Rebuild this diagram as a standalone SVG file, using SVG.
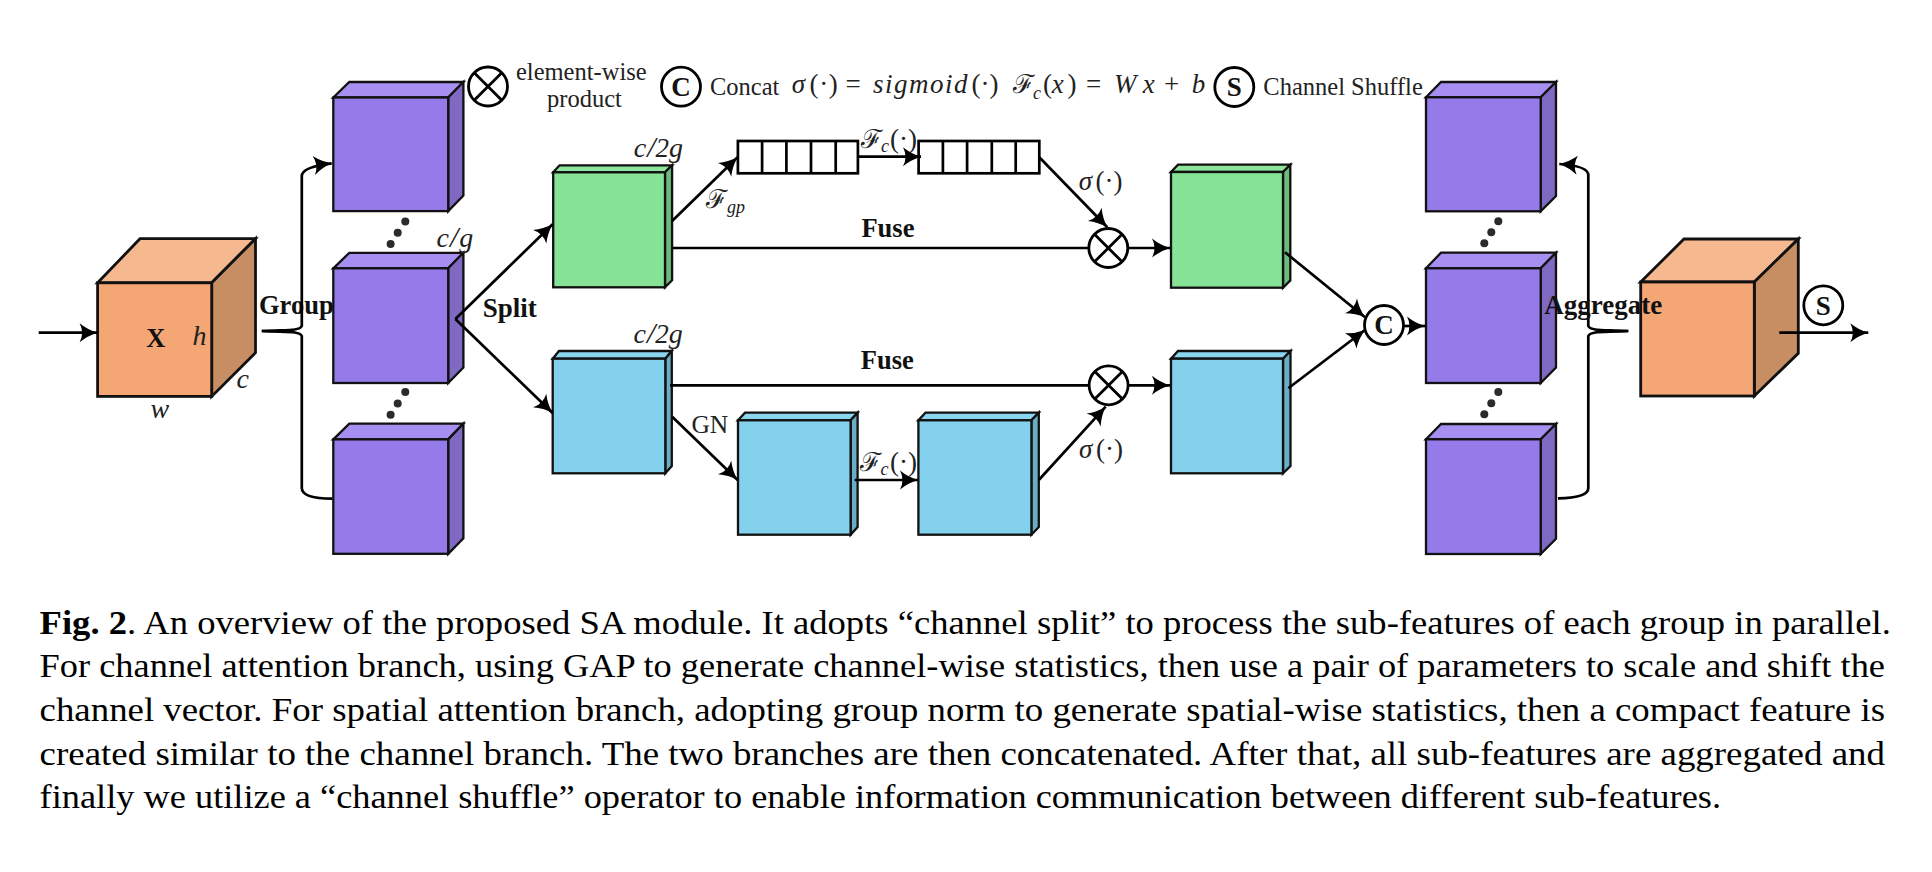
<svg xmlns="http://www.w3.org/2000/svg" width="1932" height="872" viewBox="0 0 1932 872">
<style>
.s{stroke:#111;stroke-width:2.3;stroke-linejoin:miter}
.so{stroke:#111;stroke-width:2.8;stroke-linejoin:miter}
.pf{fill:#957aea}.pt{fill:#a68ff0}.ps{fill:#7f69c3}
.of{fill:#f4a674}.ot{fill:#f6b88f}.os{fill:#c78e63}
.gf{fill:#86e295}.gt{fill:#8ee59c}.gs{fill:#6cba7c}
.bf{fill:#83d1ec}.bt{fill:#8bd5ee}.bs{fill:#6cadc6}
text{font-family:"Liberation Serif",serif;fill:#111}
.b{font-weight:bold;font-size:26.5px}
.m{font-style:italic;font-size:28px;fill:#222}
.n{font-size:27px;fill:#222}
.f{font-style:normal;font-size:26px}
.i{font-style:italic}
.u{font-size:24.5px;fill:#222}
.l{stroke:#000;stroke-width:2.7;fill:none}
.a{stroke:#000;stroke-width:2.7;fill:none;marker-end:url(#ah)}
.r{fill:#fff;stroke:#000;stroke-width:2.8}
.d{fill:#2b2b2b}
.c{font-size:33.8px;fill:#000}
.k{font-size:27px;font-weight:bold}
</style>
<defs>
<marker id="ah" markerUnits="userSpaceOnUse" markerWidth="24" markerHeight="24" refX="19" refY="12" orient="auto">
<path d="M1 2.5 Q9 9 19 12 Q9 15 1 21.5 Q6 12 1 2.5Z" fill="#000"/>
</marker>
<symbol id="x" overflow="visible">
<circle cx="0" cy="0" r="19.5" fill="#fff" stroke="#000" stroke-width="2.8"/>
<path d="M-13.8 -13.8L13.8 13.8M13.8 -13.8L-13.8 13.8" stroke="#000" stroke-width="2.8"/>
</symbol>
</defs>

<g id="cube-input">
<path class="ot so" d="M97.6 282.8L140 238.7H255.5L211.7 282.8Z"/>
<path class="os so" d="M211.7 282.8L255.5 238.7V352.7L211.7 396.4Z"/>
<rect class="of so" x="97.6" y="282.8" width="114.1" height="113.6"/>
<text x="155.7" y="346.5" class="b" text-anchor="middle">X</text>
<text x="192.5" y="344.8" class="m">h</text>
<text x="236.5" y="387.8" class="m">c</text>
<text x="150.5" y="418" class="m">w</text>
</g>

<text x="259" y="314" class="b">Group</text>

<g id="group-1">
<path class="pt s" d="M333.3 97.5L349.3 82H463.4L448.2 97.5Z"/>
<path class="ps s" d="M448.2 97.5L463.4 82V195.6L448.2 211.1Z"/>
<rect class="pf s" x="333.3" y="97.5" width="114.9" height="113.6"/>
</g>
<g id="group-2">
<path class="pt s" d="M333.3 268.3L349.3 252.8H463.4L448.2 268.3Z"/>
<path class="ps s" d="M448.2 268.3L463.4 252.8V367.5L448.2 383Z"/>
<rect class="pf s" x="333.3" y="268.3" width="114.9" height="114.7"/>
<text x="436.5" y="246.6" class="m">c<tspan class="n" dx="1" style="font-size:30px">/</tspan><tspan dx="1">g</tspan></text>
</g>
<g id="group-3">
<path class="pt s" d="M333.3 439.4L349.3 423.6H463.4L448.2 439.4Z"/>
<path class="ps s" d="M448.2 439.4L463.4 423.6V538.2L448.2 553.8Z"/>
<rect class="pf s" x="333.3" y="439.4" width="114.9" height="114.4"/>
</g>
<g id="dots-left">
<circle class="d" cx="405.3" cy="221.5" r="4"/><circle class="d" cx="397.7" cy="232.8" r="4"/><circle class="d" cx="390.6" cy="243.9" r="4"/>
<circle class="d" cx="405.3" cy="391.9" r="4"/><circle class="d" cx="397.7" cy="403.6" r="4"/><circle class="d" cx="390.6" cy="414.7" r="4"/>
</g>
<text x="482.7" y="317.2" class="b" style="font-size:27px">Split</text>

<g id="legend">
<use href="#x" x="488" y="86.5"/>
<text x="516" y="80" class="u">element-wise</text>
<text x="547" y="106.7" class="u">product</text>
<circle class="r" cx="681" cy="86.7" r="19.5"/>
<text x="681" y="96" class="k" text-anchor="middle">C</text>
<text x="710" y="95" class="u">Concat</text>
<text y="93.3" class="n"><tspan x="791.8" class="i">σ</tspan><tspan x="809.6" letter-spacing="0.6">(·)</tspan><tspan x="845.4">=</tspan><tspan x="873" class="i" letter-spacing="1.5">sigmoid</tspan><tspan x="971.5">(·)</tspan></text>
<text y="93.3" class="n"><tspan x="1012.7" class="f">ℱ</tspan><tspan x="1033" y="98.5" class="i" font-size="18">c</tspan><tspan x="1043" y="93.3">(</tspan><tspan x="1051.7" class="i">x</tspan><tspan x="1067.5">)</tspan><tspan x="1086">=</tspan><tspan x="1114" class="i">W</tspan><tspan x="1142.7" class="i">x</tspan><tspan x="1164">+</tspan><tspan x="1191.7" class="i">b</tspan></text>
<circle class="r" cx="1234.3" cy="87" r="19.5"/>
<text x="1234.3" y="96" class="k" text-anchor="middle">S</text>
<text x="1263.3" y="95" class="u">Channel Shuffle</text>
</g>

<g id="green-1">
<path class="gt s" d="M553.2 172.3L559.6 165.3H672.1L665 172.3Z"/>
<path class="gs s" d="M665 172.3L672.1 165.3V280.3L665 287.3Z"/>
<rect class="gf s" x="553.2" y="172.3" width="111.8" height="115"/>
<text x="633.7" y="156.7" class="m">c<tspan class="n" dx="1" style="font-size:30px">/</tspan><tspan class="n" style="font-size:27px">2</tspan><tspan>g</tspan></text>
</g>

<g id="strip-1" fill="#fff" stroke="#000" stroke-width="2.7">
<rect x="737.9" y="141" width="120" height="32.3"/>
<path d="M762.1 141V173.3M786.4 141V173.3M811 141V173.3M835.7 141V173.3"/>
</g>
<g id="strip-2" fill="#fff" stroke="#000" stroke-width="2.7">
<rect x="918.6" y="141" width="120.7" height="32.3"/>
<path d="M942.9 141V173.3M967.1 141V173.3M991.8 141V173.3M1015.7 141V173.3"/>
</g>
<text y="148" class="n"><tspan x="860.7" class="f">ℱ</tspan><tspan x="881" y="152" class="i" font-size="18">c</tspan><tspan x="890" y="148">(·)</tspan></text>
<text y="208" class="n"><tspan x="706" class="f">ℱ</tspan><tspan x="727" y="213" class="i" font-size="18">gp</tspan></text>
<text x="861.4" y="237.3" class="b">Fuse</text>
<text y="190" class="n"><tspan x="1078.7" class="i">σ</tspan><tspan x="1095.5">(·)</tspan></text>

<g id="multiply-top"><use href="#x" x="1108.3" y="248"/></g>

<g id="green-2">
<path class="gt s" d="M1171 172L1178 164.7H1290.3L1283 172Z"/>
<path class="gs s" d="M1283 172L1290.3 164.7V280.4L1283 287.7Z"/>
<rect class="gf s" x="1171" y="172" width="112" height="115.7"/>
</g>

<g id="blue-1">
<path class="bt s" d="M552.7 358.7L559 351H671.8L665.3 358.7Z"/>
<path class="bs s" d="M665.3 358.7L671.8 351V466L665.3 473.3Z"/>
<rect class="bf s" x="552.7" y="358.7" width="112.6" height="114.6"/>
<text x="633.5" y="343.3" class="m">c<tspan class="n" dx="1" style="font-size:30px">/</tspan><tspan class="n" style="font-size:27px">2</tspan><tspan>g</tspan></text>
</g>
<text x="860.8" y="369.3" class="b">Fuse</text>
<g id="multiply-bottom"><use href="#x" x="1108.6" y="385.3"/></g>
<text x="691.4" y="433.3" class="u" style="font-size:25.5px">GN</text>

<g id="blue-2">
<path class="bt s" d="M738 420.3L745 412.7H857.6L850.6 420.3Z"/>
<path class="bs s" d="M850.6 420.3L857.6 412.7V527L850.6 534.7Z"/>
<rect class="bf s" x="738" y="420.3" width="112.6" height="114.4"/>
</g>
<g id="blue-3">
<path class="bt s" d="M918.4 420.3L925.5 412.7H1038.8L1031.4 420.3Z"/>
<path class="bs s" d="M1031.4 420.3L1038.8 412.7V527L1031.4 534.7Z"/>
<rect class="bf s" x="918.4" y="420.3" width="113" height="114.4"/>
</g>
<text y="471" class="n"><tspan x="860" class="f">ℱ</tspan><tspan x="880.5" y="475" class="i" font-size="18">c</tspan><tspan x="890" y="471">(·)</tspan></text>
<text y="458.3" class="n"><tspan x="1079" class="i">σ</tspan><tspan x="1096">(·)</tspan></text>

<g id="blue-4">
<path class="bt s" d="M1171 358.7L1178 351H1290.5L1283 358.7Z"/>
<path class="bs s" d="M1283 358.7L1290.5 351V466L1283 473.3Z"/>
<rect class="bf s" x="1171" y="358.7" width="112" height="114.6"/>
</g>

<g id="concat"><circle class="r" cx="1384" cy="325" r="19.5"/>
<text x="1384" y="333.8" class="k" text-anchor="middle">C</text></g>

<g id="agg-1">
<path class="pt s" d="M1426 97.3L1441 82H1556L1540.7 97.3Z"/>
<path class="ps s" d="M1540.7 97.3L1556 82V196L1540.7 211.3Z"/>
<rect class="pf s" x="1426" y="97.3" width="114.7" height="114"/>
</g>
<g id="agg-2">
<path class="pt s" d="M1426 268.3L1441 252.7H1556L1540.7 268.3Z"/>
<path class="ps s" d="M1540.7 268.3L1556 252.7V367.6L1540.7 383Z"/>
<rect class="pf s" x="1426" y="268.3" width="114.7" height="114.7"/>
</g>
<g id="agg-3">
<path class="pt s" d="M1426 439.3L1441 424H1556L1540.7 439.3Z"/>
<path class="ps s" d="M1540.7 439.3L1556 424V538.7L1540.7 554Z"/>
<rect class="pf s" x="1426" y="439.3" width="114.7" height="114.7"/>
</g>
<g id="dots-right">
<circle class="d" cx="1498.3" cy="221.3" r="4"/><circle class="d" cx="1491.3" cy="232.3" r="4"/><circle class="d" cx="1484.3" cy="243.3" r="4"/>
<circle class="d" cx="1498.3" cy="392" r="4"/><circle class="d" cx="1491.3" cy="403.3" r="4"/><circle class="d" cx="1484.3" cy="414.3" r="4"/>
</g>

<g id="cube-output">
<path class="ot so" d="M1640.7 282L1684 239H1798.3L1754.3 282Z"/>
<path class="os so" d="M1754.3 282L1798.3 239V353.3L1754.3 396Z"/>
<rect class="of so" x="1640.7" y="282" width="113.6" height="114"/>
</g>
<g id="shuffle"><circle class="r" cx="1823.3" cy="305.3" r="19.5"/>
<text x="1823.3" y="314.5" class="k" text-anchor="middle">S</text></g>

<g id="connectors">
<path class="a" d="M38.7 332.7H97.6"/>
<path class="a" d="M261.8 331C285 329.5 299 331.5 301.8 326V176Q301.8 167 331.7 163.3"/>
<path class="l" d="M261.8 331C285 332.5 299 330.5 301.8 336V488Q301.8 498.7 332.5 498.7"/>
<path class="a" d="M455.4 319L552.6 224.2"/>
<path class="a" d="M455.4 319L552.6 413"/>
<path class="a" d="M672.1 221L737.5 157.3"/>
<path class="a" d="M857.9 156.7H921"/>
<path class="l" d="M672 248H1089"/>
<path class="a" d="M1039.3 157.3L1107.3 227.3"/>
<path class="a" d="M1128 248H1170"/>
<path class="l" d="M670 385.3H1089"/>
<path class="a" d="M672.2 416.7L737.6 480"/>
<path class="a" d="M854.7 480H918"/>
<path class="a" d="M1038.8 480L1105.7 406.7"/>
<path class="a" d="M1128 385.3H1170"/>
<path class="a" d="M1285 252.3L1365 317.3"/>
<path class="a" d="M1288.3 388.3L1365 330"/>
<path class="a" d="M1403.3 326H1425"/>
<path class="a" d="M1628.3 331C1605 329.5 1591 331.5 1588.3 326V175Q1588.3 166 1559.3 164"/>
<path class="l" d="M1628.3 331C1605 332.5 1591 330.5 1588.3 336V488Q1588.3 498 1558 498.3"/>
<path class="a" d="M1779.3 332.7H1868.3"/>
</g>

<text x="1544.3" y="314.3" class="b" style="font-size:27px">Aggregate</text>

<g id="caption">
<text x="39.6" y="634" class="c" textLength="1851.2" lengthAdjust="spacingAndGlyphs"><tspan font-weight="bold">Fig. 2</tspan>. An overview of the proposed SA module. It adopts “channel split” to process the sub-features of each group in parallel.</text>
<text x="39.6" y="677.3" class="c" textLength="1845.4" lengthAdjust="spacingAndGlyphs">For channel attention branch, using GAP to generate channel-wise statistics, then use a pair of parameters to scale and shift the</text>
<text x="39.6" y="720.7" class="c" textLength="1845.4" lengthAdjust="spacingAndGlyphs">channel vector. For spatial attention branch, adopting group norm to generate spatial-wise statistics, then a compact feature is</text>
<text x="39.6" y="764.7" class="c" textLength="1845.4" lengthAdjust="spacingAndGlyphs">created similar to the channel branch. The two branches are then concatenated. After that, all sub-features are aggregated and</text>
<text x="39.6" y="808.3" class="c" textLength="1681.4" lengthAdjust="spacingAndGlyphs">finally we utilize a “channel shuffle” operator to enable information communication between different sub-features.</text>
</g>
</svg>
